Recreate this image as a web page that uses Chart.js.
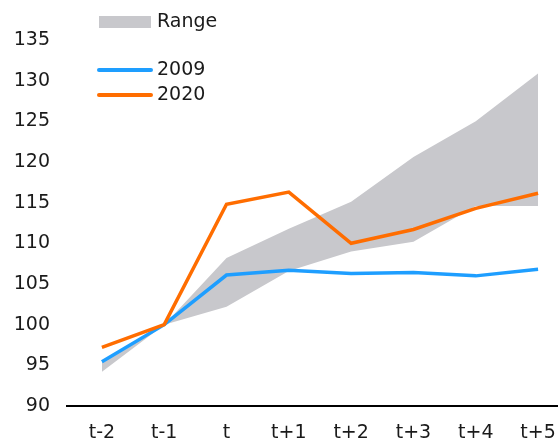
<!DOCTYPE html>
<html>
<head>
<meta charset="utf-8">
<script src="https://cdn.jsdelivr.net/npm/chart.js@4"></script>
<style>
html,body{margin:0;padding:0;background:#fff;}
#wrap{width:558px;height:441px;position:relative;}
</style>
</head>
<body>
<div id="wrap"><canvas id="c" width="558" height="441"></canvas></div>
<script>
const categories = ["t-2","t-1","t","t+1","t+2","t+3","t+4","t+5"];
const rangeUpper = [95.4,100,108.2,111.8,115.1,120.6,125.0,130.9];
const rangeLower = [94.2,100,102.2,106.6,109.0,110.2,114.6,114.6];
const s2009 = [95.45,100,106.1,106.7,106.3,106.4,106.0,106.8];
const s2020 = [97.2,100,114.8,116.3,110.0,111.7,114.3,116.15];
const yTicks = [90,95,100,105,110,115,120,125,130,135];

const BLUE = '#1E9EFF', ORANGE = '#FF6D00', GREY = '#C8C8CC';
const FONT = '"DejaVu Sans", Verdana, sans-serif';
const pts = arr => arr.map((v,i)=>({x:i,y:v}));

const legendPlugin = {
  id:'customLegend',
  afterDraw(chart){
    const ctx = chart.ctx;
    ctx.save();
    ctx.font = '19px ' + FONT;
    ctx.textBaseline = 'middle';
    ctx.textAlign = 'left';
    ctx.fillStyle = GREY;
    ctx.fillRect(99,16,52,12);
    ctx.fillStyle = '#1a1a1a';
    ctx.fillText(chart.data.datasets[0].label,157,22);
    const items = [[chart.data.datasets[2].label, BLUE, 70],[chart.data.datasets[3].label, ORANGE, 95]];
    items.forEach(([lab,col,y])=>{
      ctx.strokeStyle = col; ctx.lineWidth = 4; ctx.lineCap='round';
      ctx.beginPath(); ctx.moveTo(99,y); ctx.lineTo(151,y); ctx.stroke();
      ctx.fillText(lab,157,y);
    });
    ctx.restore();
  }
};

new Chart(document.getElementById('c'),{
  type:'line',
  data:{datasets:[
    {label:'Range',data:pts(rangeUpper),borderWidth:0,pointRadius:0,backgroundColor:GREY,fill:'+1',order:3,tension:0},
    {label:'RangeLow',data:pts(rangeLower),borderWidth:0,pointRadius:0,backgroundColor:GREY,fill:false,order:4,tension:0},
    {label:'2009',data:pts(s2009),borderColor:BLUE,borderWidth:3.5,pointRadius:0,fill:false,order:1,tension:0},
    {label:'2020',data:pts(s2020),borderColor:ORANGE,borderWidth:3.5,pointRadius:0,fill:false,order:0,tension:0}
  ]},
  options:{
    responsive:false,animation:false,
    layout:{padding:{left:12,top:40,right:0,bottom:0}},
    plugins:{legend:{display:false},tooltip:{enabled:false}},
    scales:{
      x:{type:'linear',min:-0.56,max:7.32,
        afterBuildTicks(axis){axis.ticks = categories.map((_,i)=>({value:i}));},
        afterFit(axis){axis.height = 35; axis.paddingLeft = 0; axis.paddingRight = 0;},
        ticks:{autoSkip:false,maxRotation:0,color:'#1a1a1a',font:{family:FONT,size:19},padding:16,
          callback:(v)=>categories[v] ?? ''},
        grid:{display:false,drawTicks:false},
        border:{display:true,color:'#000',width:2}
      },
      y:{min:90,max:135,
        afterBuildTicks(axis){axis.ticks = yTicks.map(v=>({value:v}));},
        afterFit(axis){axis.width = 55; axis.paddingTop = 0; axis.paddingBottom = 0;},
        ticks:{color:'#1a1a1a',font:{family:FONT,size:19},padding:17},
        grid:{display:false,drawTicks:false},
        border:{display:false}
      }
    }
  },
  plugins:[legendPlugin]
});
</script>
</body>
</html>
